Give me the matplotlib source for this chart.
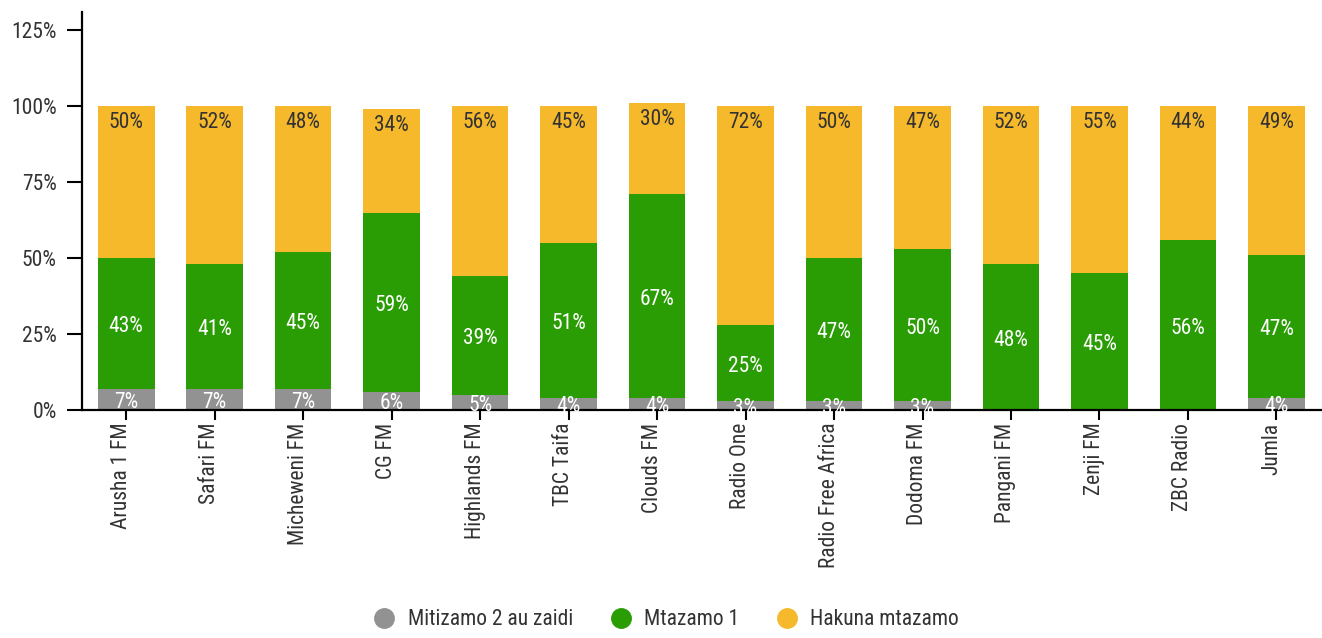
import matplotlib.pyplot as plt
import matplotlib.transforms as mtrans
import numpy as np
from matplotlib.lines import Line2D

plt.rcParams['font.family'] = ['Roboto Condensed', 'Liberation Sans Narrow', 'Roboto', 'DejaVu Sans']

stations = ['Arusha 1 FM', 'Safari FM', 'Micheweni FM', 'CG FM', 'Highlands FM',
            'TBC Taifa', 'Clouds FM', 'Radio One', 'Radio Free Africa', 'Dodoma FM',
            'Pangani FM', 'Zenji FM', 'ZBC Radio', 'Jumla']
two_plus = [7, 7, 7, 6, 5, 4, 4, 3, 3, 3, 0, 0, 0, 4]
one = [43, 41, 45, 59, 39, 51, 67, 25, 47, 50, 48, 45, 56, 47]
none = [50, 52, 48, 34, 56, 45, 30, 72, 50, 47, 52, 55, 44, 49]
series_names = ['Mitizamo 2 au zaidi', 'Mtazamo 1', 'Hakuna mtazamo']
colors = ['#929292', '#2a9d05', '#f6b92b']

fig = plt.figure(figsize=(13.22, 6.38), dpi=100)
ax = fig.add_axes([0.062, 0.357, 0.937, 0.624])

x = np.arange(len(stations))
w = 0.64
b1 = np.array(two_plus)
b2 = b1 + np.array(one)
tops = b2 + np.array(none)

ax.bar(x, two_plus, w, color=colors[0])
ax.bar(x, one, w, bottom=b1, color=colors[1])
ax.bar(x, none, w, bottom=b2, color=colors[2])

fs = 15.5
for i in range(len(stations)):
    if two_plus[i] > 0:
        ax.text(x[i], two_plus[i] / 2 - 0.8, f'{two_plus[i]}%', ha='center', va='center',
                color='white', fontsize=fs)
    if one[i] > 0:
        ax.text(x[i], b1[i] + one[i] / 2 - 1, f'{one[i]}%', ha='center', va='center',
                color='white', fontsize=fs)
    if none[i] > 0:
        ax.annotate(f'{none[i]}%', (x[i], tops[i]), xytext=(0, -4), textcoords='offset points',
                    ha='center', va='top', color='#333333', fontsize=fs)

ax.set_xlim(-0.5, len(stations) - 0.5)
ax.set_ylim(0, 130.9)
ax.set_yticks([0, 25, 50, 75, 100, 125])
ax.set_yticklabels([f'{v}%' for v in [0, 25, 50, 75, 100, 125]])
ax.set_xticks(x)
ax.set_xticklabels(stations, rotation=90)

for s in ['top', 'right']:
    ax.spines[s].set_visible(False)
for s in ['left', 'bottom']:
    ax.spines[s].set_linewidth(1.6)
ax.tick_params(axis='y', length=11, width=1.5, pad=7, labelsize=15.5, labelcolor='#333333')
ax.tick_params(axis='x', length=7, width=1.5, pad=2, labelsize=15.5, labelcolor='#333333')

# shift x labels a little left of their ticks
shift = mtrans.ScaledTranslation(-5 / 100, 0, fig.dpi_scale_trans)
for lab in ax.get_xticklabels():
    lab.set_transform(lab.get_transform() + shift)

handles = [Line2D([], [], marker='o', linestyle='', markersize=14, color=c) for c in colors]
fig.legend(handles, series_names, loc='lower center', bbox_to_anchor=(0.5, -0.018), ncol=3,
           frameon=False, fontsize=15.5, handletextpad=0.1, columnspacing=1.2, labelcolor='#333333')

fig.savefig('out.png', dpi=100)
